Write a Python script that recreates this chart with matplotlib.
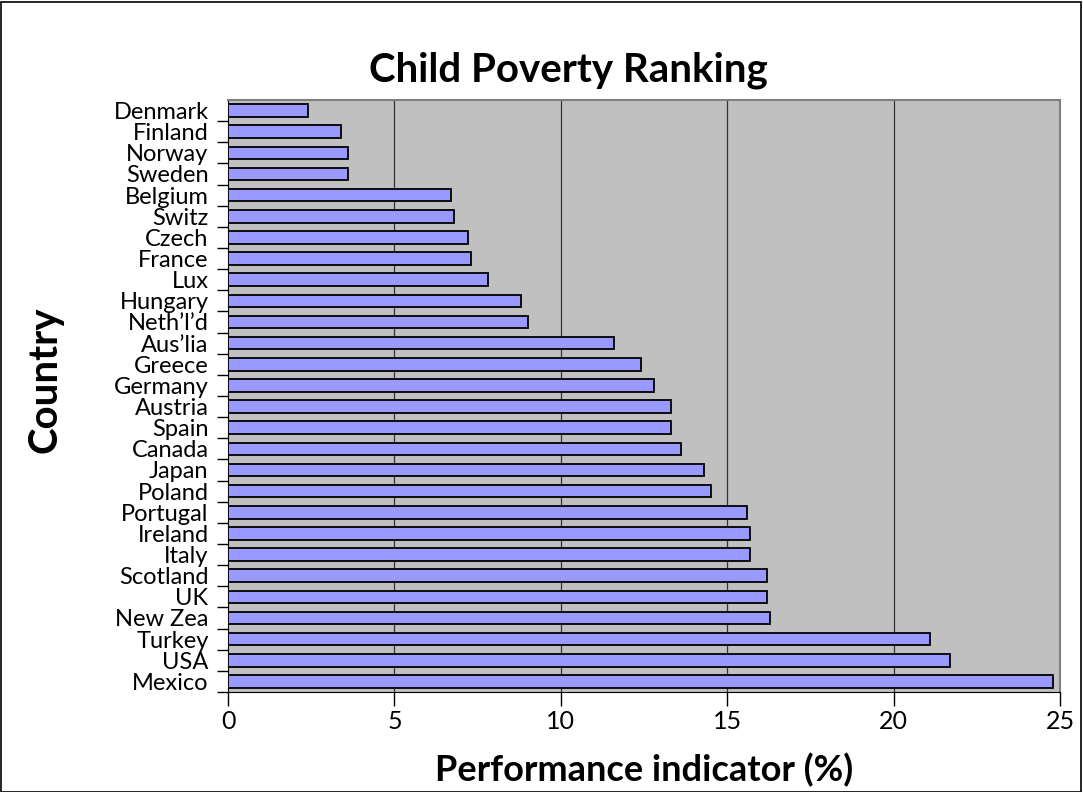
import matplotlib
matplotlib.use('Agg')
import matplotlib.pyplot as plt
import numpy as np

plt.rcParams['font.family'] = ['Lato', 'DejaVu Sans']

countries = ['Denmark', 'Finland', 'Norway', 'Sweden', 'Belgium', 'Switz', 'Czech',
             'France', 'Lux', 'Hungary', "Neth\u2019l\u2019d", "Aus\u2019lia", 'Greece',
             'Germany', 'Austria', 'Spain', 'Canada', 'Japan', 'Poland', 'Portugal',
             'Ireland', 'Italy', 'Scotland', 'UK', 'New Zea', 'Turkey', 'USA', 'Mexico']
values = [2.4, 3.4, 3.6, 3.6, 6.7, 6.8, 7.2, 7.3, 7.8, 8.8, 9.0, 11.6, 12.4,
          12.8, 13.3, 13.3, 13.6, 14.3, 14.5, 15.6, 15.7, 15.7, 16.2, 16.2,
          16.3, 21.1, 21.7, 24.8]
xticks = [0, 5, 10, 15, 20, 25]

fig = plt.figure(figsize=(10.83, 7.92), dpi=100)
# outer chart frame
fig.patches.append(plt.Rectangle((0.001, 0.0), 0.997, 0.998, transform=fig.transFigure,
                                 fill=False, edgecolor='black', linewidth=1.2))

ax = fig.add_axes([228/1083, 1 - 692/792, (1060-228)/1083, (692-100)/792])
ax.set_facecolor('#C0C0C0')

y = np.arange(len(countries))
ax.barh(y, values, height=0.6, color='#9999FF', edgecolor='black', linewidth=1.3, zorder=3)

ax.set_xlim(0, 25)
ax.set_ylim(len(countries) - 0.5, -0.5)

# vertical grid lines
for v in xticks[1:-1]:
    ax.axvline(v, color='#333333', linewidth=0.9, zorder=1)

ax.set_xticks(xticks)
ax.set_xticklabels([str(t) for t in xticks], fontsize=18)
ax.tick_params(axis='x', direction='out', length=10, width=1, pad=3)

# category labels at centres, tick marks at the boundaries
ax.set_yticks(y)
ax.set_yticklabels(countries, fontsize=17, va='center_baseline')
ax.tick_params(axis='y', which='major', length=0, pad=14)
ax.set_yticks(np.arange(len(countries)) + 0.5, minor=True)
ax.tick_params(axis='y', which='minor', direction='out', length=8, width=1)

for side in ['top', 'right']:
    ax.spines[side].set_color('#808080')
    ax.spines[side].set_linewidth(1.5)
ax.spines['left'].set_color('black')
ax.spines['bottom'].set_color('black')

ax.set_xlabel('Performance indicator (%)', fontsize=26, fontweight='bold', labelpad=14)
fig.text(45/1083, 1 - 380/792, 'Country', rotation=90, fontsize=29, fontweight='bold',
         ha='center', va='center')
fig.text(568/1083, 1 - 70/792, 'Child Poverty Ranking', fontsize=29, fontweight='bold',
         ha='center', va='center')

fig.savefig('out.png', dpi=100)
